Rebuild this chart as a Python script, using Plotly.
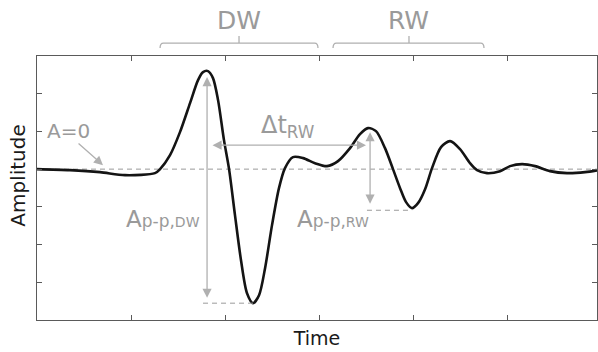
import plotly.graph_objects as go

# ---- data ----
time = [0.0, 0.351, 0.670, 0.936, 1.255, 1.309, 1.415, 1.521, 1.628, 1.713, 1.766, 1.819,
        1.872, 1.926, 1.989, 2.043, 2.106, 2.170, 2.234, 2.298, 2.362, 2.426, 2.500,
        2.574, 2.638, 2.723, 2.830, 2.957, 3.085, 3.202, 3.330, 3.436, 3.521, 3.606,
        3.702, 3.787, 3.862, 3.926, 3.989, 4.053, 4.128, 4.202, 4.298, 4.394, 4.500,
        4.606, 4.681, 4.787, 4.926, 5.032, 5.160, 5.298, 5.457, 5.638, 5.830, 5.968]
amplitude = [0.0, -0.027, -0.080, -0.159, -0.106, 0.0, 0.371, 0.981, 1.751, 2.361, 2.573, 2.600,
             2.414, 1.830, 0.769, 0.0, -1.220, -2.414, -3.289, -3.554, -3.342, -2.626, -1.485,
             -0.504, 0.027, 0.318, 0.292, 0.159, 0.080, 0.212, 0.557, 0.928, 1.088, 1.008,
             0.557, 0.0, -0.504, -0.875, -1.034, -0.902, -0.531, 0.027, 0.584, 0.743, 0.531,
             0.159, -0.027, -0.106, -0.053, 0.080, 0.133, 0.080, -0.053, -0.106, -0.080, -0.027]

x_range = [0, 5.957]
y_range = [-4, 3]

wave_labels = ["DW", "RW"]
wave_spans = [[1.309, 2.149, 2.989], [3.149, 3.957, 4.755]]  # start, centre, end (time)

GRAY_T = "#9a9a9a"
GRAY_L = "#b0b0b0"
FONT = "DejaVu Sans"


def px(xd):
    return (xd - x_range[0]) / (x_range[1] - x_range[0])


def app_label(sub):
    return ("A<span style='font-size:17px'>p-p,</span>"
            f"<span style='font-size:14px'>{sub}</span>")


fig = go.Figure()
fig.add_trace(go.Scatter(x=time, y=amplitude, mode="lines",
                         line=dict(color="#141414", width=2.6, shape="spline", smoothing=0.8),
                         hoverinfo="skip", showlegend=False))

shapes = []
# zero line
shapes.append(dict(type="line", xref="x", yref="y", x0=x_range[0], x1=x_range[1], y0=0, y1=0,
                   line=dict(color=GRAY_T, width=1, dash="5px,4px"), layer="below"))
# peak-to-peak dashed guides
shapes.append(dict(type="line", xref="x", yref="y", x0=1.766, x1=2.34, y0=-3.554, y1=-3.554,
                   line=dict(color=GRAY_T, width=1, dash="5px,4px")))
shapes.append(dict(type="line", xref="x", yref="y", x0=3.51, x1=3.99, y0=-1.09, y1=-1.09,
                   line=dict(color=GRAY_T, width=1, dash="5px,4px")))

# brackets above the plot
y_end, y_bar, y_tip = 1.030, 1.049, 1.076
rx = 0.006
annotations = []
for lab, (a, c, b) in zip(wave_labels, wave_spans):
    x0, xc, x1 = px(a), px(c), px(b)
    path = (f"M {x0},{y_end} Q {x0},{y_bar} {x0+rx},{y_bar} L {x1-rx},{y_bar} "
            f"Q {x1},{y_bar} {x1},{y_end} M {xc},{y_bar} L {xc},{y_tip}")
    shapes.append(dict(type="path", xref="paper", yref="paper", path=path,
                       line=dict(color=GRAY_L, width=1.3)))
    annotations.append(dict(xref="paper", yref="paper", x=xc, y=1.136, text=lab,
                            showarrow=False, font=dict(family=FONT, size=25, color=GRAY_T),
                            xanchor="center", yanchor="middle"))

arrow_style = dict(showarrow=True, arrowhead=2, arrowsize=1.4, arrowwidth=1.3,
                   arrowcolor=GRAY_L, text="", axref="x", ayref="y", xref="x", yref="y",
                   standoff=0, startstandoff=0)
# DW peak-to-peak arrow
annotations.append(dict(x=1.809, y=2.44, ax=1.809, ay=-3.45, arrowside="end+start", **arrow_style))
# RW peak-to-peak arrow
annotations.append(dict(x=3.543, y=0.98, ax=3.543, ay=-0.955, arrowside="end+start", **arrow_style))
# delta t arrow
annotations.append(dict(x=3.50, y=0.636, ax=1.851, ay=0.636, arrowside="end+start", **arrow_style))
# A=0 arrow
annotations.append(dict(x=0.702, y=0.106, ax=0.426, ay=0.716, arrowside="end", **arrow_style))

# text labels
annotations.append(dict(x=0.34, y=1.0, xref="x", yref="y", text="A=0", showarrow=False,
                        font=dict(family=FONT, size=20, color=GRAY_T)))
annotations.append(dict(x=2.67, y=1.12, xref="x", yref="y", text="Δt<sub>RW</sub>",
                        showarrow=False, font=dict(family=FONT, size=24, color=GRAY_T)))
annotations.append(dict(x=1.75, y=-1.32, xref="x", yref="y", xanchor="right",
                        text=app_label("DW"), showarrow=False,
                        font=dict(family=FONT, size=23, color=GRAY_T)))
annotations.append(dict(x=3.555, y=-1.32, xref="x", yref="y", xanchor="right",
                        text=app_label("RW"), showarrow=False,
                        font=dict(family=FONT, size=23, color=GRAY_T)))
# y-axis title (placed as in the reference, slightly above the axis centre)
annotations.append(dict(xref="paper", yref="paper", x=-0.034, y=0.55, text="Amplitude",
                        textangle=-90, showarrow=False, xanchor="center", yanchor="middle",
                        font=dict(family=FONT, size=20, color="#1a1a1a")))

axis_common = dict(showgrid=False, zeroline=False, showline=True, mirror="ticks",
                   linecolor="#5a5a5a", linewidth=1, ticks="inside", ticklen=5,
                   tickcolor="#5a5a5a", tickwidth=1, showticklabels=False, dtick=1)

fig.update_layout(
    width=598, height=352,
    margin=dict(l=37, r=1, t=56, b=32),
    paper_bgcolor="white", plot_bgcolor="white",
    font=dict(family=FONT),
    xaxis=dict(range=x_range, tick0=0,
               title=dict(text="Time", standoff=11, font=dict(family=FONT, size=19, color="#1a1a1a")),
               **axis_common),
    yaxis=dict(range=y_range, tick0=0, **axis_common),
    shapes=shapes,
    annotations=annotations,
)

fig.write_html("out.html", config={"responsive": False, "displayModeBar": False},
               post_script="document.body.style.margin='0';document.body.style.overflow='hidden';")
